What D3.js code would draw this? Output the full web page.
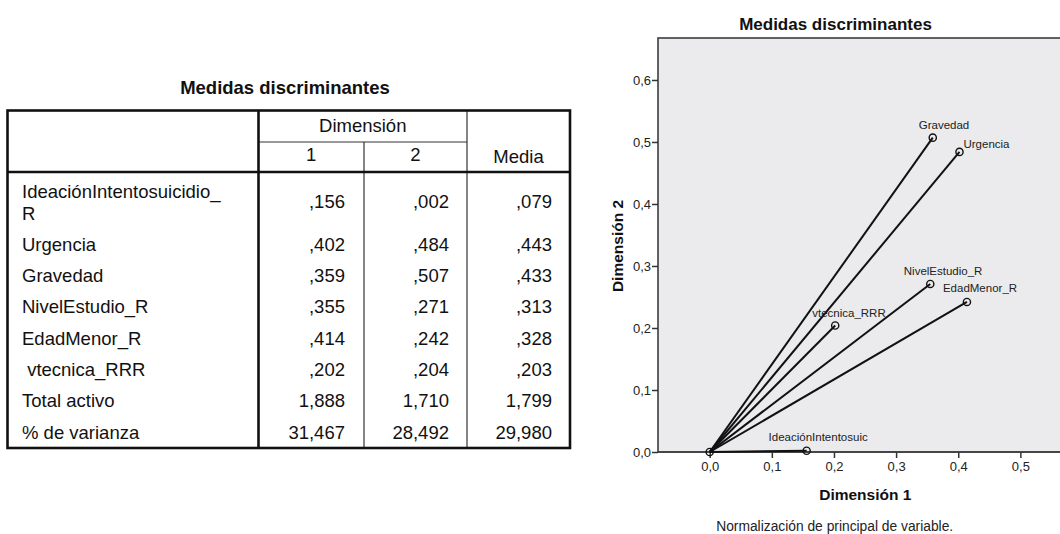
<!DOCTYPE html>
<html><head><meta charset="utf-8">
<script src="https://cdn.jsdelivr.net/npm/d3@7"></script>
<style>
body{margin:0;background:#fff;}
svg{display:block;font-family:"Liberation Sans",Arial,sans-serif;}
</style>
</head><body><svg id="c" width="1060" height="534"></svg>
<script>
// ---------- data ----------
const tableTitle = "Medidas discriminantes";
const chartTitle = "Medidas discriminantes";
const headerGroup = "Dimensión";
const headerCols = ["1", "2", "Media"];
const rowLabels = [["IdeaciónIntentosuicidio_", "R"], ["Urgencia"], ["Gravedad"], ["NivelEstudio_R"], ["EdadMenor_R"], [" vtecnica_RRR"], ["Total activo"], ["% de varianza"]];
const dim1 = [0.156, 0.402, 0.359, 0.355, 0.414, 0.202];
const dim2 = [0.002, 0.484, 0.507, 0.271, 0.242, 0.204];
const media = [0.079, 0.443, 0.433, 0.313, 0.328, 0.203];
const totalActivo = [1.888, 1.710, 1.799];
const pctVarianza = [31.467, 28.492, 29.980];
const pointLabels = ["IdeaciónIntentosuic", "Urgencia", "Gravedad", "NivelEstudio_R", "EdadMenor_R", "vtecnica_RRR"];
const xTicks = [0, 0.1, 0.2, 0.3, 0.4, 0.5];
const yTicks = [0, 0.1, 0.2, 0.3, 0.4, 0.5, 0.6];
const xTitle = "Dimensión 1";
const yTitle = "Dimensión 2";
const footnote = "Normalización de principal de variable.";

// ---------- helpers ----------
const fmt = v => d3.format(".3f")(v).replace(/^0\./, ".").replace(".", ",");
const tickFmt = v => d3.format(".1f")(v).replace(".", ",");
const svg = d3.select("#c");

// ---------- table ----------
const T = {left: 7.5, right: 570, top: 110.5, midHead: 142, headBottom: 172, bottom: 448,
  colEdges: [7.5, 258.5, 364, 467, 570], valRight: [345, 449, 552]};
const tg = svg.append("g");
tg.append("text").attr("x", 285).attr("y", 94).attr("text-anchor", "middle")
  .attr("font-size", 18.5).attr("font-weight", "bold").attr("fill", "#111").text(tableTitle);

const thin = (x1, y1, x2, y2) => tg.append("line").attr("x1", x1).attr("y1", y1).attr("x2", x2).attr("y2", y2).attr("stroke", "#333").attr("stroke-width", 1.2);
const thick = (x1, y1, x2, y2) => tg.append("line").attr("x1", x1).attr("y1", y1).attr("x2", x2).attr("y2", y2).attr("stroke", "#111").attr("stroke-width", 2.6);
thin(T.colEdges[1], T.midHead, T.colEdges[3], T.midHead);
thin(T.colEdges[2], T.midHead, T.colEdges[2], T.bottom);
thin(T.colEdges[3], T.top, T.colEdges[3], T.bottom);
thick(T.colEdges[1], T.top, T.colEdges[1], T.bottom);
thick(T.left, T.headBottom, T.right, T.headBottom);
tg.append("rect").attr("x", T.left).attr("y", T.top).attr("width", T.right - T.left).attr("height", T.bottom - T.top)
  .attr("fill", "none").attr("stroke", "#111").attr("stroke-width", 2.6);

const fs = 18.5;
const tt = (x, y, s, anchor) => tg.append("text").attr("x", x).attr("y", y).attr("text-anchor", anchor || "start")
  .attr("font-size", fs).attr("fill", "#111").style("white-space", "pre").text(s);
tt((T.colEdges[1] + T.colEdges[3]) / 2, 131.5, headerGroup, "middle");
tt((T.colEdges[1] + T.colEdges[2]) / 2, 160.5, headerCols[0], "middle");
tt((T.colEdges[2] + T.colEdges[3]) / 2, 160.5, headerCols[1], "middle");
tt((T.colEdges[3] + T.colEdges[4]) / 2, 163, headerCols[2], "middle");

const rowVals = dim1.map((d, i) => [d, dim2[i], media[i]]).concat([totalActivo, pctVarianza]);
rowLabels.forEach((lab, i) => {
  const base = i === 0 ? 207.5 : 250.7 + 31.3 * (i - 1);
  if (lab.length === 2) { tt(22, 198, lab[0]); tt(22, 219.8, lab[1]); }
  else tt(22, base, lab[0]);
  rowVals[i].forEach((v, j) => tt(T.valRight[j], base, fmt(v), "end"));
});

// ---------- chart ----------
const x = d3.scaleLinear().domain([-0.0832, 0.6]).range([658, 1082.5]);
const y = d3.scaleLinear().domain([0, 0.6677]).range([452, 38]);
const cg = svg.append("g");
cg.append("rect").attr("x", x.range()[0]).attr("y", y.range()[1]).attr("width", x.range()[1] - x.range()[0] + 20)
  .attr("height", y.range()[0] - y.range()[1]).attr("fill", "#ebebed").attr("stroke", "#3c3c3c").attr("stroke-width", 1.6);

cg.append("text").attr("x", 835.5).attr("y", 30).attr("text-anchor", "middle").attr("font-size", 17)
  .attr("font-weight", "bold").attr("fill", "#111").text(chartTitle);

const yAxis = cg.append("g").attr("transform", `translate(${x.range()[0]},0)`)
  .call(d3.axisLeft(y).tickValues(yTicks).tickFormat(tickFmt).tickSize(6).tickPadding(1));
const xAxis = cg.append("g").attr("transform", `translate(0,${y(0)})`)
  .call(d3.axisBottom(x).tickValues(xTicks).tickFormat(tickFmt).tickSize(6).tickPadding(4));
[yAxis, xAxis].forEach(a => {
  a.select(".domain").remove();
  a.selectAll("line").attr("stroke", "#333").attr("stroke-width", 1.5);
  a.selectAll("text").attr("font-size", 13).attr("fill", "#222").attr("font-family", '"Liberation Sans",Arial,sans-serif');
});
cg.append("line").attr("x1", x.range()[0]).attr("x2", x.range()[1] + 20).attr("y1", y(0)).attr("y2", y(0))
  .attr("stroke", "#3c3c3c").attr("stroke-width", 1.6);

cg.append("text").attr("x", 865.3).attr("y", 500).attr("text-anchor", "middle").attr("font-size", 15.5)
  .attr("font-weight", "bold").attr("fill", "#111").text(xTitle);
cg.append("text").attr("transform", "translate(622.5,246) rotate(-90)").attr("text-anchor", "middle")
  .attr("font-size", 15.5).attr("font-weight", "bold").attr("fill", "#111").text(yTitle);
cg.append("text").attr("x", 834.7).attr("y", 531).attr("text-anchor", "middle").attr("font-size", 13.8)
  .attr("fill", "#222").text(footnote);

const pts = dim1.map((d, i) => ({x: d, y: dim2[i], label: pointLabels[i]}));
const labelOffsets = [[-38, -9.5], [4, -4], [-14, -8.5], [-26.5, -9], [-24, -9.5], [-23, -8.5]];
cg.selectAll("line.vec").data(pts).enter().append("line").attr("class", "vec")
  .attr("x1", x(0)).attr("y1", y(0)).attr("x2", d => x(d.x)).attr("y2", d => y(d.y))
  .attr("stroke", "#111").attr("stroke-width", 2);
cg.selectAll("circle.pt").data([{x: 0, y: 0}].concat(pts)).enter().append("circle").attr("class", "pt")
  .attr("cx", d => x(d.x)).attr("cy", d => y(d.y)).attr("r", 3.6)
  .attr("fill", "none").attr("stroke", "#111").attr("stroke-width", 1.4);
cg.selectAll("text.lab").data(pts).enter().append("text").attr("class", "lab")
  .attr("x", (d, i) => x(d.x) + labelOffsets[i][0]).attr("y", (d, i) => y(d.y) + labelOffsets[i][1])
  .attr("font-size", 11.5).attr("fill", "#222").text(d => d.label);
</script>
</body></html>
